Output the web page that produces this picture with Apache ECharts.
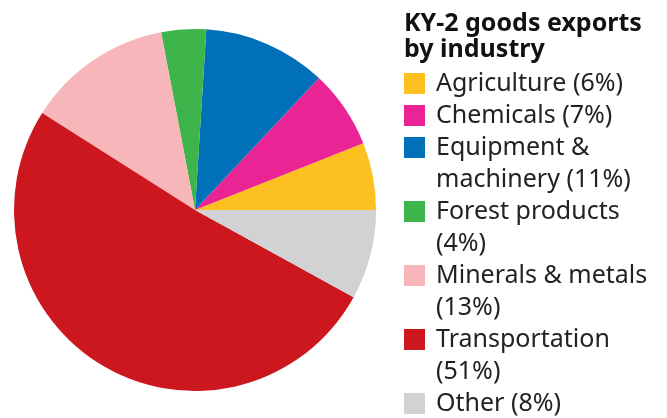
<!DOCTYPE html>
<html>
<head>
<meta charset="utf-8">
<script src="https://cdn.jsdelivr.net/npm/echarts@6/dist/echarts.min.js"></script>
<style>
  html, body { margin: 0; padding: 0; background: #fff; }
  #chart { width: 667px; height: 418px; }
</style>
</head>
<body>
<div id="chart"></div>
<script>
// data
var categories = ['Agriculture', 'Chemicals', 'Equipment & machinery', 'Forest products', 'Minerals & metals', 'Transportation', 'Other'];
var shares = [6, 7, 11, 4, 13, 51, 8];
var titleLines = ['KY-2 goods exports', 'by industry'];
var legendLines = [
    ['Agriculture (6%)'],
    ['Chemicals (7%)'],
    ['Equipment &', 'machinery (11%)'],
    ['Forest products', '(4%)'],
    ['Minerals & metals', '(13%)'],
    ['Transportation', '(51%)'],
    ['Other (8%)']
];
var colors = ['#fdc021', '#ea2494', '#0070b8', '#3db54a', '#f6b6ba', '#cc171e', '#d1d2d4'];

var myChart = echarts.init(document.getElementById('chart'));

var graphics = [];
// title, one text per line
titleLines.forEach(function (t, j) {
    graphics.push({
        type: 'text',
        x: 404,
        y: 24 + j * 26,
        style: {
            text: t,
            font: 'bold 25px "Noto Sans"',
            fill: '#111',
            textVerticalAlign: 'middle'
        }
    });
});
// legend drawn by hand so the marker sits on the first line
var rowTop = 73;
legendLines.forEach(function (lines, i) {
    graphics.push({
        type: 'rect',
        shape: { x: 404, y: rowTop, width: 21, height: 21 },
        style: { fill: colors[i] }
    });
    lines.forEach(function (t, j) {
        graphics.push({
            type: 'text',
            x: 436,
            y: rowTop + 10.5 + j * 32,
            style: {
                text: t,
                font: '25px "Noto Sans"',
                fill: '#222',
                textVerticalAlign: 'middle'
            }
        });
    });
    rowTop += lines.length * 32;
});

var option = {
    animation: false,
    color: colors,
    graphic: graphics,
    series: [{
        name: 'KY-2 goods exports',
        type: 'pie',
        center: [195, 210],
        radius: 181,
        startAngle: 0,
        clockwise: false,
        label: { show: false },
        labelLine: { show: false },
        itemStyle: { borderWidth: 0 },
        emphasis: { disabled: true },
        data: categories.map(function (c, i) {
            return { name: c, value: shares[i] };
        })
    }]
};

myChart.setOption(option);
</script>
</body>
</html>
